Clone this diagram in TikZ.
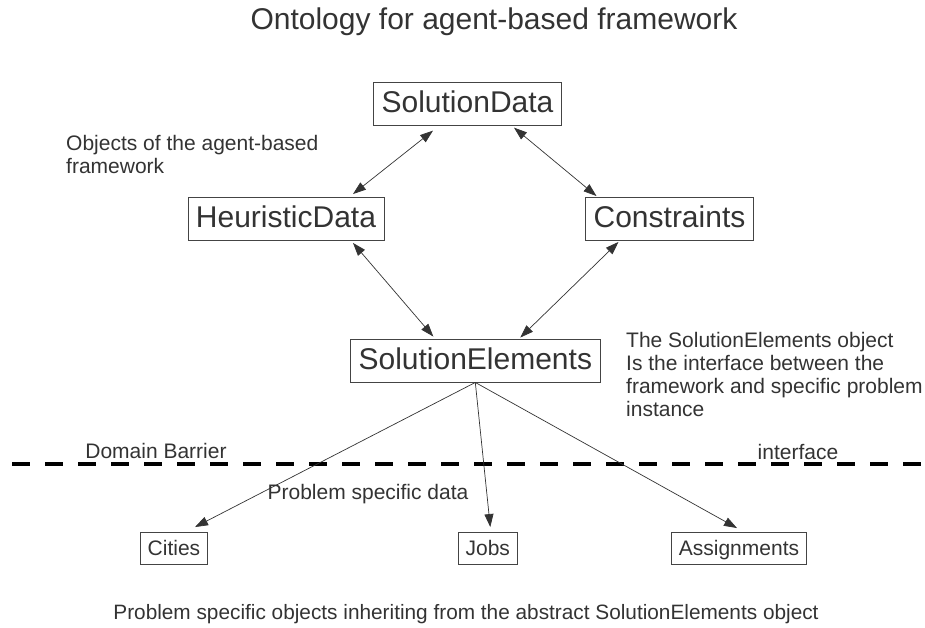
\documentclass[tikz,border=0pt]{standalone}
\usepackage{fontspec}
\setmainfont{Liberation Sans}
\usetikzlibrary{arrows.meta}
\definecolor{inkgray}{HTML}{333333}
\definecolor{edgegray}{HTML}{444444}
\begin{document}
\begin{tikzpicture}[x=1pt, y=-1pt, >={Triangle[length=13pt, width=9pt]},
    bigbox/.style={draw=edgegray, line width=0.9pt, text=inkgray, inner xsep=8pt, inner ysep=0pt,
        minimum height=43pt, text height=20pt, text depth=3pt, font=\fontsize{30}{36}\selectfont},
    smallbox/.style={draw=edgegray, line width=0.9pt, text=inkgray, inner xsep=7pt, inner ysep=0pt,
        minimum height=32pt, text height=15pt, text depth=0.6pt, font=\fontsize{21}{25}\selectfont},
    note/.style={text=inkgray, inner sep=0pt, font=\fontsize{21}{23}\selectfont},
    link/.style={draw=black!80, line width=0.7pt, <->},
    sub/.style={draw=black!80, line width=0.7pt, ->}]
    \useasboundingbox (0,0) rectangle (925,628);
    \node[note, font=\fontsize{30}{36}\selectfont] (title) at (494,22) {Ontology for agent-based framework};
    % framework objects
    \node[bigbox] (SD) at (467.5,103.7) {SolutionData};
    \node[bigbox] (HD) at (286,219) {HeuristicData};
    \node[bigbox] (C) at (669.5,219) {Constraints};
    \node[bigbox] (SE) at (475.3,360.5) {SolutionElements};
    \node[note, align=left, anchor=north west] (objnote) at (66,135) {Objects of the agent-based\\framework};
    \node[note, align=left, anchor=north west] (senote) at (626,332) {The SolutionElements object\\Is the interface between the\\framework and specific problem\\instance};
    \draw[link] ([xshift=-34.5pt, yshift=-5pt]SD.south) to ([xshift=67pt, yshift=3pt]HD.north);
    \draw[link] ([xshift=46.5pt, yshift=-2pt]SD.south) to ([xshift=-73pt, yshift=1pt]C.north);
    \draw[link] ([xshift=67pt, yshift=-2pt]HD.south) to ([xshift=-42pt, yshift=2pt]SE.north);
    \draw[link] ([xshift=-51pt, yshift=-1pt]C.south) to ([xshift=45pt, yshift=1pt]SE.north);
    % domain barrier
    \coordinate (barL) at (12,464);
    \coordinate (barR) at (925,464);
    \draw[line width=4.7pt, dash pattern=on 18pt off 15pt] (barL) -- (barR);
    \node[note] (barrier) at (156,451) {Domain Barrier};
    \node[note] (iface) at (798,452) {interface};
    % problem specific objects
    \node[smallbox] (cities) at (174,548.5) {Cities};
    \node[smallbox] (jobs) at (487.8,548.5) {Jobs};
    \node[smallbox] (assign) at (739,548.5) {Assignments};
    \node[note] (psdata) at (368,494) {Problem specific data};
    \draw[sub] (SE.south) to ([xshift=21pt, yshift=5pt]cities.north);
    \draw[sub] (SE.south) to ([xshift=2.5pt, yshift=5pt]jobs.north);
    \draw[sub] (SE.south) to ([xshift=-2pt, yshift=4pt]assign.north);
    \node[note, font=\fontsize{20.8}{23}\selectfont] (bottom) at (466,614) {Problem specific objects inheriting from the abstract SolutionElements object};
\end{tikzpicture}
\end{document}
